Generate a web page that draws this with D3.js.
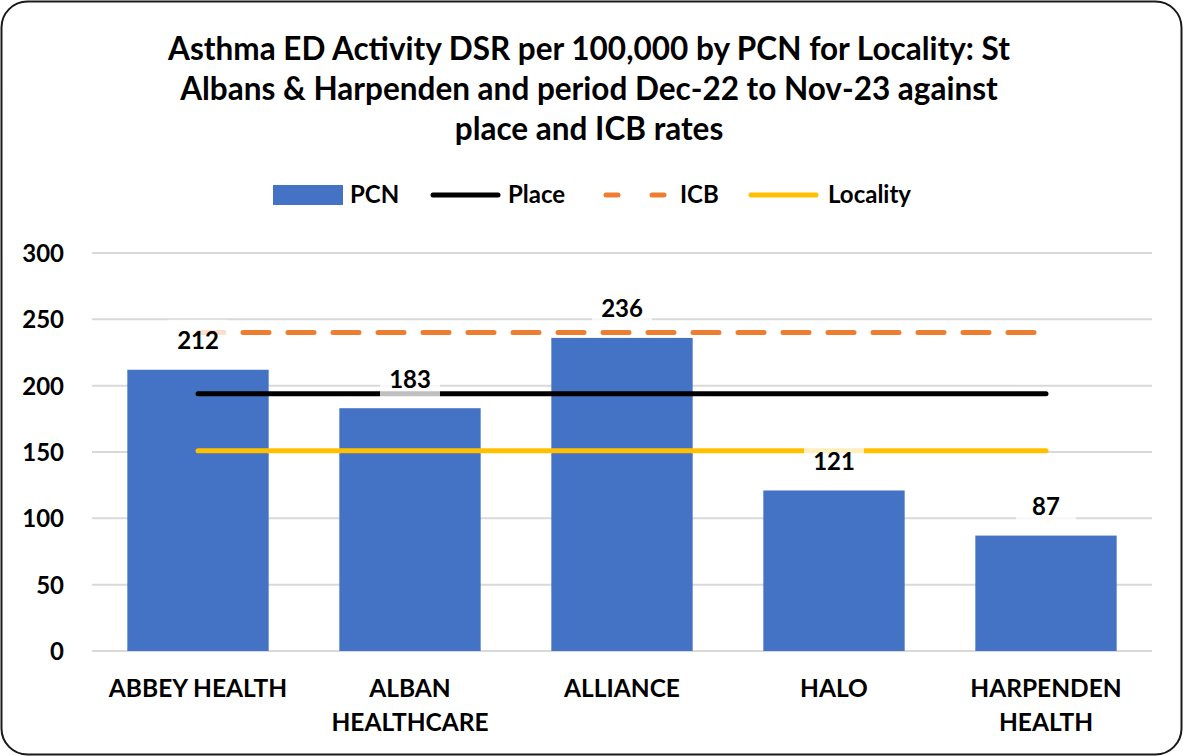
<!DOCTYPE html>
<html>
<head>
<meta charset="utf-8">
<title>Asthma ED Activity DSR</title>
<script src="https://d3js.org/d3.v7.min.js"></script>
<style>
  body { margin: 0; background: #fff; }
  svg text { font-family: Lato, "Open Sans", sans-serif; font-weight: bold; fill: #000; }
</style>
</head>
<body>
<div id="chart"></div>
<script>
// data
var categories = [["ABBEY HEALTH"], ["ALBAN", "HEALTHCARE"], ["ALLIANCE"], ["HALO"], ["HARPENDEN", "HEALTH"]];
var pcnValues = [212, 183, 236, 121, 87];
var placeRate = 194;
var icbRate = 240;
var localityRate = 151;
var yTicks = [0, 50, 100, 150, 200, 250, 300];
var titleLines = [
  "Asthma ED Activity DSR per 100,000 by PCN for Locality: St",
  "Albans & Harpenden and period Dec-22 to Nov-23 against",
  "place and ICB rates"
];

var W = 1183, H = 756;
var plot = {left: 92, right: 1152, top: 253, bottom: 651};

var svg = d3.select("#chart").append("svg")
  .attr("width", W).attr("height", H);

// outer frame
svg.append("rect")
  .attr("x", 1.5).attr("y", 1.5)
  .attr("width", W - 3).attr("height", H - 3)
  .attr("rx", 26).attr("ry", 26)
  .attr("fill", "#fff").attr("stroke", "#1a1a1a").attr("stroke-width", 2);

// title
svg.append("g").selectAll("text")
  .data(titleLines).enter().append("text")
  .attr("x", 589)
  .attr("y", function(d, i) { return 60 + i * 40; })
  .attr("text-anchor", "middle")
  .style("font-size", "31.5px")
  .text(function(d) { return d; });

var keys = categories.map(function(d, i) { return i; });
var x = d3.scaleBand().domain(keys)
  .range([plot.left, plot.right])
  .paddingInner(1 / 3).paddingOuter(1 / 6);
var y = d3.scaleLinear().domain([0, 300]).range([plot.bottom, plot.top]);

// gridlines
svg.append("g").selectAll("line")
  .data(yTicks).enter().append("line")
  .attr("x1", plot.left).attr("x2", plot.right)
  .attr("y1", function(d) { return y(d); })
  .attr("y2", function(d) { return y(d); })
  .attr("stroke", "#d9d9d9").attr("stroke-width", 2);

// y axis labels
var yAxis = svg.append("g")
  .attr("transform", "translate(" + (plot.left - 28) + ",0)")
  .call(d3.axisLeft(y).tickValues(yTicks).tickSize(0).tickPadding(0));
yAxis.select(".domain").remove();
yAxis.selectAll("text")
  .style("font-size", "24px")
  .attr("dy", "0.35em");

// bars
svg.append("g").selectAll("rect")
  .data(pcnValues).enter().append("rect")
  .attr("x", function(d, i) { return x(i); })
  .attr("y", function(d) { return y(d); })
  .attr("width", x.bandwidth())
  .attr("height", function(d) { return y(0) - y(d); })
  .attr("fill", "#4472c4");

// rate lines from first to last category centre
var x1 = x(0) + x.bandwidth() / 2, x2 = x(keys.length - 1) + x.bandwidth() / 2;
var lines = [
  {v: icbRate, color: "#ed7d31", dash: "26,19"},
  {v: placeRate, color: "#000000", dash: null},
  {v: localityRate, color: "#ffc000", dash: null}
];
svg.append("g").selectAll("line")
  .data(lines).enter().append("line")
  .attr("x1", x1).attr("x2", x2)
  .attr("y1", function(d) { return y(d.v); })
  .attr("y2", function(d) { return y(d.v); })
  .attr("stroke", function(d) { return d.color; })
  .attr("stroke-width", 5)
  .attr("stroke-linecap", "round")
  .attr("stroke-dasharray", function(d) { return d.dash; });

// data labels with translucent white boxes
var lab = svg.append("g").selectAll("g")
  .data(pcnValues).enter().append("g")
  .attr("transform", function(d, i) {
    return "translate(" + (x(i) + x.bandwidth() / 2) + "," + (y(d) - 29) + ")";
  });
lab.append("rect")
  .attr("x", -30).attr("y", -21).attr("width", 60).attr("height", 40)
  .attr("fill", "#fff").attr("fill-opacity", 0.75);
lab.append("text")
  .attr("text-anchor", "middle")
  .attr("dy", "0.35em")
  .style("font-size", "24px")
  .text(function(d) { return d; });

// x category labels
var xl = svg.append("g").selectAll("text")
  .data(categories).enter().append("text")
  .attr("x", function(d, i) { return x(i) + x.bandwidth() / 2; })
  .attr("y", 697)
  .attr("text-anchor", "middle")
  .style("font-size", "24.5px");
xl.selectAll("tspan")
  .data(function(d) { return d; }).enter().append("tspan")
  .attr("x", function() { return d3.select(this.parentNode).attr("x"); })
  .attr("dy", function(d, i) { return i === 0 ? 0 : 34; })
  .text(function(d) { return d; });

// legend
var legend = svg.append("g").attr("transform", "translate(0,195)");
legend.append("rect")
  .attr("x", 273).attr("y", -10).attr("width", 70).attr("height", 20)
  .attr("fill", "#4472c4");
legend.append("text").attr("x", 350).attr("dy", "0.35em").style("font-size", "24px").text("PCN");
legend.append("line").attr("x1", 433).attr("x2", 498)
  .attr("stroke", "#000").attr("stroke-width", 5).attr("stroke-linecap", "round");
legend.append("text").attr("x", 508).attr("dy", "0.35em").style("font-size", "24px").text("Place");
legend.append("line").attr("x1", 606).attr("x2", 670)
  .attr("stroke", "#ed7d31").attr("stroke-width", 5).attr("stroke-linecap", "round")
  .attr("stroke-dasharray", "12,34");
legend.append("text").attr("x", 680).attr("dy", "0.35em").style("font-size", "24px").text("ICB");
legend.append("line").attr("x1", 751).attr("x2", 816)
  .attr("stroke", "#ffc000").attr("stroke-width", 5).attr("stroke-linecap", "round");
legend.append("text").attr("x", 828).attr("dy", "0.35em").style("font-size", "24px").text("Locality");
</script>
</body>
</html>
